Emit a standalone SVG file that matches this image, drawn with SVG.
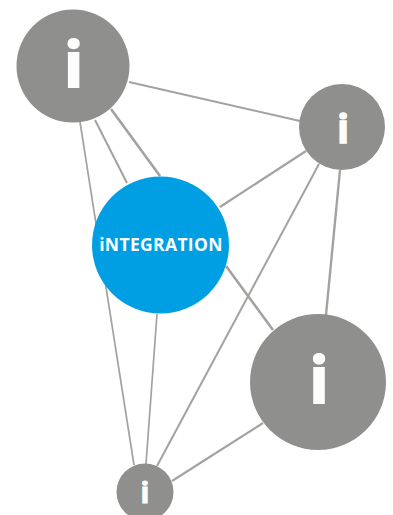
<svg xmlns="http://www.w3.org/2000/svg" width="393" height="515" viewBox="0 0 393 515">
<style>
.l{stroke:#a3a29f;fill:none}
.n{fill:#8f8f8e}
.b{fill:#009fe3}
text{fill:#fff;font-family:"Open Sans","Noto Sans",sans-serif;font-weight:700;text-anchor:middle;opacity:.99}
.i{stroke:#fff;stroke-width:2}
</style>
<rect width="393" height="515" fill="#fff"/>
<g id="connectors">
<line class="l" stroke-width="2" x1="129" y1="82" x2="300" y2="121"/>
<line class="l" stroke-width="1.7" x1="80" y1="122" x2="134" y2="465"/>
<line class="l" stroke-width="2" x1="95" y1="120" x2="127" y2="183"/>
<line class="l" stroke-width="2.6" x1="111" y1="109" x2="160" y2="176"/>
<line class="l" stroke-width="2.2" x1="220" y1="207" x2="306" y2="151"/>
<line class="l" stroke-width="2" x1="319" y1="164" x2="157" y2="466"/>
<line class="l" stroke-width="2.4" x1="340" y1="170" x2="326" y2="315"/>
<line class="l" stroke-width="2.6" x1="226" y1="266" x2="273" y2="330"/>
<line class="l" stroke-width="1.7" x1="157" y1="314" x2="146" y2="464"/>
<line class="l" stroke-width="2.2" x1="172" y1="481" x2="263" y2="423"/>
</g>
<g id="node-top-left"><circle class="n" cx="73" cy="66" r="56.5"/><text class="i" x="73.500" y="87" font-size="63">i</text></g>
<g id="node-right"><circle class="n" cx="342" cy="127" r="43"/><text class="i" x="343" y="142.500" font-size="40" style="stroke-width:1.300">i</text></g>
<g id="node-integration"><circle class="b" cx="160.500" cy="245" r="68.500"/><text x="161" y="251" font-size="17.500" letter-spacing="0.350">iNTEGRATION</text></g>
<g id="node-bottom-right"><circle class="n" cx="318" cy="382" r="68"/><text class="i" x="319" y="403" font-size="64">i</text></g>
<g id="node-bottom"><circle class="n" cx="145" cy="492" r="28.500"/><text class="i" x="145" y="502.500" font-size="29" style="stroke-width:1">i</text></g>
</svg>
